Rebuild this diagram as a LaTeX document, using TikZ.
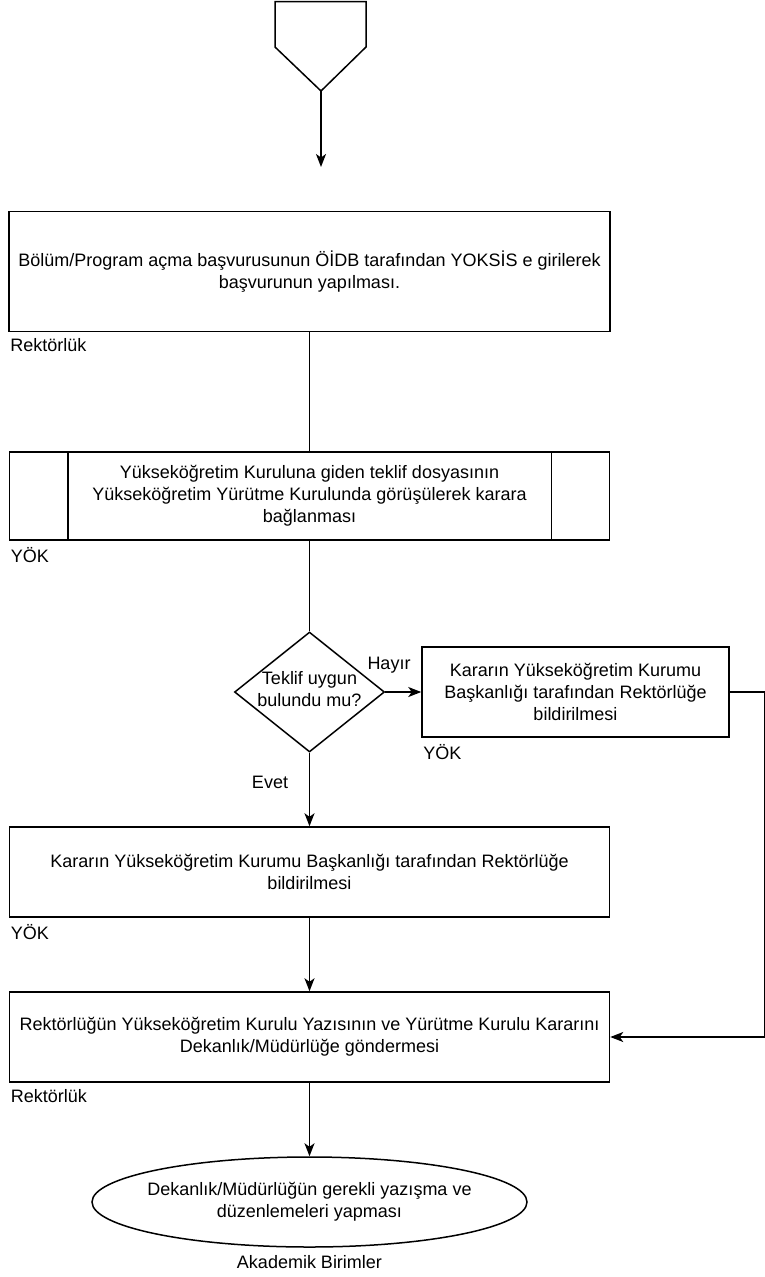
\documentclass[tikz,border=0pt]{standalone}
\usepackage{fontspec}
\setmainfont{Liberation Sans}
\usetikzlibrary{positioning,shapes.geometric,arrows.meta}

\tikzset{
  every node/.style={font=\fontsize{18}{22}\selectfont},
  procbox/.style={draw, line width=1.5pt, align=center, inner sep=0pt},
  decision/.style={draw, diamond, line width=1.5pt, inner sep=0pt},
  terminal/.style={draw, ellipse, line width=1.5pt, inner sep=0pt},
  lbl/.style={inner sep=2pt},
  flow/.style={line width=1.5pt},
  flowarrow/.style={line width=1.5pt, -{Stealth[length=13pt,width=10pt,inset=3.5pt]}}
}

\begin{document}
\begin{tikzpicture}[x=1pt, y=-1pt]
  \useasboundingbox (0,0) rectangle (765,1277);

  % Off-page connector at the top
  \draw[flow] (275,1.5) -- (366,1.5) -- (366,47) -- (321,91) -- (275,47) -- cycle;
  \coordinate (top) at (321,91);
  \coordinate (topend) at (321,167);
  \draw[flowarrow] (top) -- (topend);

  % Box 1: application entered in YOKSIS
  \node[procbox, minimum width=601pt, minimum height=120pt] (b1) at (309.5,271.5)
    {Bölüm/Program açma başvurusunun ÖİDB tarafından YOKSİS e girilerek\\başvurunun yapılması.};
  \node[lbl, below right=4pt and 0pt of b1.south west] (r1) {Rektörlük};

  % Box 2: predefined process at YOK
  \node[procbox, minimum width=600pt, minimum height=88pt] (b2) at (309.5,496)
    {Yükseköğretim Kuruluna giden teklif dosyasının\\Yükseköğretim Yürütme Kurulunda görüşülerek karara\\bağlanması};
  \draw[flow] ([xshift=59pt]b2.north west) -- ([xshift=59pt]b2.south west);
  \draw[flow] ([xshift=-59pt]b2.north east) -- ([xshift=-59pt]b2.south east);
  \node[lbl, below right=4pt and 0pt of b2.south west] (y1) {YÖK};

  % Decision
  \node[decision, minimum width=150pt, minimum height=120pt] (d) at (309.5,692) {};
  \node[align=center, inner sep=0pt] (dtext) at (309.5,689) {Teklif uygun\\bulundu mu?};

  % Box 3: rejection sent back
  \node[procbox, minimum width=307pt, minimum height=90pt] (b3) at (575.5,692)
    {Kararın Yükseköğretim Kurumu\\Başkanlığı tarafından Rektörlüğe\\bildirilmesi};
  \node[lbl, below right=4pt and 0pt of b3.south west] (y2) {YÖK};

  % Box 4: acceptance sent back
  \node[procbox, minimum width=600pt, minimum height=90pt] (b4) at (309.5,872)
    {Kararın Yükseköğretim Kurumu Başkanlığı tarafından Rektörlüğe\\bildirilmesi};
  \node[lbl, below right=4pt and 0pt of b4.south west] (y3) {YÖK};

  % Box 5: sent to the faculty
  \node[procbox, minimum width=600pt, minimum height=90pt] (b5) at (309.5,1037)
    {Rektörlüğün Yükseköğretim Kurulu Yazısının ve Yürütme Kurulu Kararını\\Dekanlık/Müdürlüğe göndermesi};
  \node[lbl, below right=4pt and 0pt of b5.south west] (r2) {Rektörlük};

  % End
  \node[terminal, minimum width=435pt, minimum height=90pt] (e) at (309.5,1202) {};
  \node[align=center, inner sep=0pt] (etext) at (e)
    {Dekanlık/Müdürlüğün gerekli yazışma ve\\düzenlemeleri yapması};
  \node[lbl, below=5pt of e.south] (ab) {Akademik Birimler};

  % Connectors
  \draw[flow] (b1) -- (b2);
  \draw[flow] (b2) -- (d.north);
  \draw[flowarrow] (d.east) -- (b3.west);
  \node (hayir) at (389,665) {Hayır};
  \draw[flowarrow] (d.south) -- (b4.north);
  \node (evet) at (270,782) {Evet};
  \draw[flowarrow] (b4) -- (b5);
  \draw[flowarrow] (b5) -- (e);
  \draw[flowarrow] (b3.east) -- ++(34.5,0) |- (b5.east);
\end{tikzpicture}
\end{document}
